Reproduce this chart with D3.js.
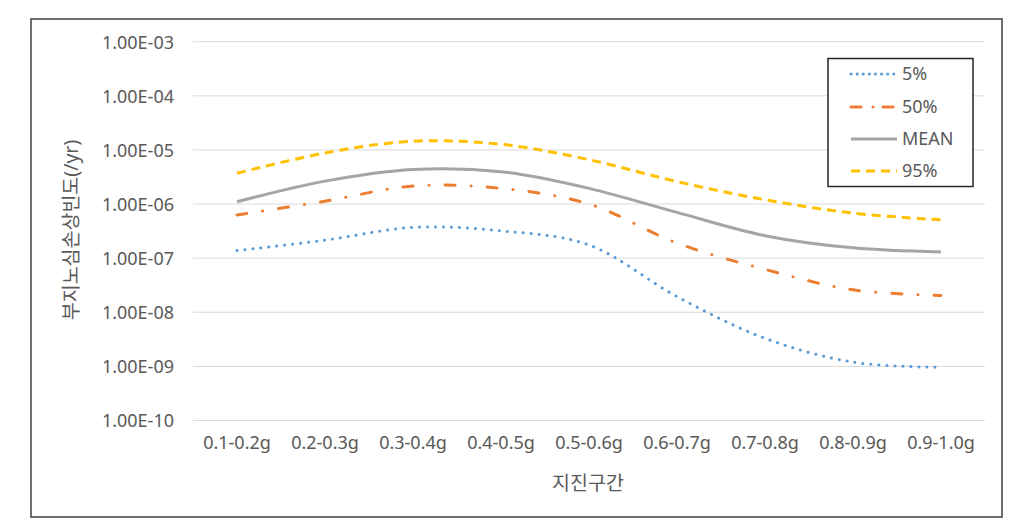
<!DOCTYPE html>
<html><head><meta charset="utf-8">
<script src="https://cdn.jsdelivr.net/npm/d3@7"></script>
<style>body{margin:0;background:#fff;} text{font-family:"Noto Sans","Noto Sans CJK KR",sans-serif;fill:#595959;}</style>
</head><body>
<svg id="c" width="1027" height="523"></svg>
<script>
const categories = ["0.1-0.2g","0.2-0.3g","0.3-0.4g","0.4-0.5g","0.5-0.6g","0.6-0.7g","0.7-0.8g","0.8-0.9g","0.9-1.0g"];
const p5   = [1.38e-7, 2.15e-7, 3.7e-7, 3.2e-7, 1.75e-7, 1.95e-8, 3.3e-9, 1.2e-9, 9.6e-10];
const p50  = [6.3e-7, 1.13e-6, 2.15e-6, 1.95e-6, 1.0e-6, 1.9e-7, 6.2e-8, 2.6e-8, 2.05e-8];
const mean = [1.1e-6, 2.65e-6, 4.35e-6, 3.95e-6, 1.95e-6, 7.0e-7, 2.6e-7, 1.55e-7, 1.3e-7];
const p95  = [3.7e-6, 8.8e-6, 1.45e-5, 1.27e-5, 6.6e-6, 2.6e-6, 1.2e-6, 6.8e-7, 5.1e-7];
const yTicks = [1e-3,1e-4,1e-5,1e-6,1e-7,1e-8,1e-9,1e-10];
const yTickLabels = ["1.00E-03","1.00E-04","1.00E-05","1.00E-06","1.00E-07","1.00E-08","1.00E-09","1.00E-10"];
const seriesNames = ["5%","50%","MEAN","95%"];

const svg = d3.select("#c");
svg.append("rect").attr("x",31).attr("y",19).attr("width",971).attr("height",498)
  .attr("fill","#fff").attr("stroke","#404040").attr("stroke-width",1.5);

const x0 = 193, x1 = 985;
const x = d3.scaleBand().domain(categories).range([x0,x1]);
const y = d3.scaleLog().domain([1e-10,1e-3]).range([420.5,41.7]);

svg.append("g").selectAll("line").data(yTicks).join("line")
  .attr("x1",x0).attr("x2",x1).attr("y1",d=>y(d)).attr("y2",d=>y(d))
  .attr("stroke","#d9d9d9").attr("stroke-width",1);

const yAxis = d3.axisLeft(y).tickValues(yTicks).tickFormat((d,i)=>yTickLabels[i]).tickSize(0).tickPadding(0);
const ga = svg.append("g").attr("transform","translate(174,0)").call(yAxis);
ga.select(".domain").remove();
ga.selectAll("text").style("font-size","18px").attr("fill","#595959").attr("dy","0.35em");

const xAxis = d3.axisBottom(x).tickSize(0).tickPadding(0);
const gx = svg.append("g").attr("transform","translate(0,436)").call(xAxis);
gx.select(".domain").remove();
gx.selectAll("text").style("font-size","18px").attr("fill","#595959").attr("dy","0.71em");

svg.append("text").attr("x",588).attr("y",490).attr("text-anchor","middle")
  .style("font-size","19.5px").text("지진구간");
svg.append("text").attr("transform","translate(78,230) rotate(-90)").attr("text-anchor","middle")
  .style("font-size","19.5px").text("부지노심손상빈도(/yr)");

const styles = [
  {data:p5,  color:"#5B9BD5", dash:"0.1 7.9", cap:"round", w:3},
  {data:p50, color:"#ED7D31", dash:"10 16 0.1 16", cap:"round", w:3},
  {data:mean,color:"#A5A5A5", dash:null, cap:"butt", w:3},
  {data:p95, color:"#FFC000", dash:"9 6", cap:"butt", w:3}
];
const line = d3.line().x((d,i)=>x(categories[i])+x.bandwidth()/2).y(d=>y(d)).curve(d3.curveCatmullRom.alpha(0.5));
styles.forEach(s=>{
  svg.append("path").datum(s.data).attr("d",line).attr("fill","none")
    .attr("stroke",s.color).attr("stroke-width",s.w).attr("stroke-linecap",s.cap)
    .attr("stroke-dasharray",s.dash);
});

const lg = svg.append("g");
lg.append("rect").attr("x",828).attr("y",58.5).attr("width",145).attr("height",128)
  .attr("fill","#fff").attr("stroke","#262626").attr("stroke-width",1.5);
const rowsY = [74,107,139,171];
const legendDash = ["0.1 6","10 12 0.1 10",null,"9 6"];
styles.forEach((s,i)=>{
  lg.append("line").attr("x1",851).attr("x2",897).attr("y1",rowsY[i]).attr("y2",rowsY[i])
    .attr("stroke",s.color).attr("stroke-width",s.w).attr("stroke-linecap",s.cap)
    .attr("stroke-dasharray",legendDash[i]);
  lg.append("text").attr("x",902).attr("y",rowsY[i]).attr("dy","0.35em")
    .style("font-size","18px").text(seriesNames[i]);
});
</script>
</body></html>
